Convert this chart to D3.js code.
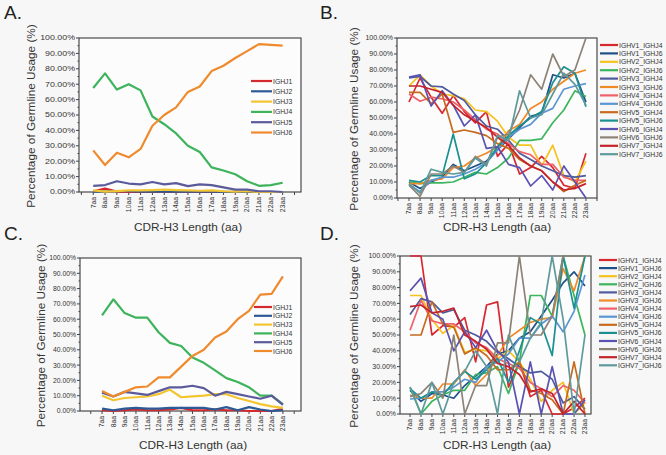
<!DOCTYPE html>
<html>
<head>
<meta charset="utf-8">
<script src="https://cdn.jsdelivr.net/npm/d3@7"></script>
<style>
  body { margin: 0; background: #f7f7f7; }
  svg { display: block; font-family: "Liberation Sans", Arial, sans-serif; }
  .tick-label { font-size: 6.8px; fill: #333; }
  .legend-label { font-size: 6.8px; fill: #333; }
  .axis-title { font-size: 11.8px; fill: #333; }
  .panel-tag { font-size: 19px; fill: #222; }
</style>
</head>
<body>
<svg id="chart" width="666" height="455"></svg>
<script>
// categories
const lengths = ["7aa","8aa","9aa","10aa","11aa","12aa","13aa","14aa","15aa","16aa","17aa","18aa","19aa","20aa","21aa","22aa","23aa"];
const yTicks = [0,10,20,30,40,50,60,70,80,90,100];

// Panel A: IGHJ usage
const aIGHJ1 = [0.5, 2.2, 0.3, 0, 0, 0, 0, 0, 0, 0, 0, 0, 0, 0, 0, 0, 0];
const aIGHJ2 = [0.3, 0.2, 0.5, 0.5, 0.3, 0.3, 0.2, 0.3, 0.2, 0.2, 0.2, 0.1, 0, 0, 0, 0, 0];
const aIGHJ3 = [1, 0.3, 0.6, 1, 1, 1.2, 1.5, 1.2, 1, 0.8, 1, 0.5, 0.3, 0.5, 0, 0, 0];
const aIGHJ4 = [67.5, 77, 66.5, 70, 66, 49, 44, 38, 30, 26, 16, 14, 11.5, 7, 4, 4.5, 6];
const aIGHJ5 = [4, 4.5, 7, 5.5, 5, 6.5, 5, 5.8, 3.8, 5, 4.5, 3, 1.5, 1.5, 0.5, 0.5, 0];
const aIGHJ6 = [27, 17.5, 25.5, 22.5, 28, 43, 50, 55, 65, 68.5, 78.5, 82, 87, 91.5, 96, 95.5, 95];

// Panel C: IGHJ usage
const cIGHJ1 = [0.5, 0, 0.5, 1, 0.5, 0.5, 1, 2, 0.5, 0.5, 1, 0.5, 0.5, 0, 0, 0, 1.5];
const cIGHJ2 = [1.5, 0.5, 1.5, 2, 1.5, 1.5, 2, 2, 2, 2, 1, 2.5, 0.5, 2.5, 1, 0, 0.5];
const cIGHJ3 = [10, 7, 8.5, 9, 9.5, 11, 14, 9, 9.5, 10, 11, 11, 8.5, 6.5, 4.5, 3, 2];
const cIGHJ4 = [62.5, 73, 64, 61, 61, 51.5, 44.5, 42.5, 35, 31.5, 26.5, 21.5, 19, 15.5, 10, 10, 4.5];
const cIGHJ5 = [12, 9.5, 12.5, 11.5, 10.5, 13, 15.5, 15.5, 16.5, 15, 10, 12.5, 11, 9.5, 8, 10, 4];
const cIGHJ6 = [13, 9.5, 12.5, 15.5, 16, 22, 22, 29, 36, 40, 48, 52, 60, 65.5, 76, 76.5, 88];

// Panel B: IGHV/IGHJ pairs
const bV1J4 = [60, 75, 63, 53, 64, 54, 47, 54, 26, 34, 15, 19, 26, 19, 8, 6, 28];
const bV1J6 = [10, 6, 10, 13, 21, 17, 20, 23, 30, 37, 44, 51, 53, 77, 75, 78, 60];
const bV2J4 = [70, 77, 70, 65, 64, 62, 55, 54, 48, 38, 33, 33, 20, 33, 14, 10, 23];
const bV2J6 = [10, 9, 9.5, 9.5, 10, 13, 16, 15, 19, 25, 36, 36, 37, 47, 55, 67, 63.5];
const bV3J4 = [75, 76, 70, 69.5, 65, 61, 52, 45, 43, 36, 28, 24, 20, 17, 14, 13, 14];
const bV3J6 = [9, 9, 11, 12, 19, 20, 25, 28, 32, 42, 46, 56, 60, 68, 73, 78, 80];
const bV4J4 = [65, 60.5, 63, 62, 60, 55, 49, 43, 40, 34, 29, 27, 21, 21, 13, 11, 11];
const bV4J6 = [8.5, 4, 11, 13, 13, 15, 18, 22, 30, 38, 43, 46, 53, 56, 68, 70, 71.5];
const bV5J4 = [66, 66, 59, 65, 41, 42.5, 41, 39, 34, 31, 24, 20, 17, 10, 4, 8, 11];
const bV5J6 = [11, 10, 14, 14, 40, 12, 15, 22, 32, 39, 45, 50, 54, 72, 82, 78, 57];
const bV6J4 = [75.5, 77, 57.5, 67, 58, 45, 52, 31, 32, 21, 19, 7.5, 14, 5, 20, 10, 0];
const bV6J6 = [8, 1, 15, 15, 20, 16, 26, 21, 38, 40, 55, 77, 68, 90, 76, 80, 100];
const bV7J4 = [70, 70, 68, 66, 58, 52, 48, 44, 38, 33, 25, 20, 17, 10, 5, 6, 9];
const bV7J6 = [9, 3, 18, 16, 15, 16, 25, 20, 39, 36, 67, 50, 52, 65, 78, 71, 58];

// Panel D: IGHV/IGHJ pairs
const dV1J4 = [100, 100, 50, 56, 55, 61, 33, 69, 71, 17, 33, 11, 15, 0, 0, 4, 10];
const dV1J6 = [15, 8, 13, 12, 10, 18, 24, 30, 38, 40, 48, 52, 62, 72, 83, 90, 81];
const dV2J4 = [75, 75, 60, 51, 56, 39, 41, 40, 35, 40, 33, 22, 8, 15, 20, 0, 7];
const dV2J6 = [17, 0, 8, 12, 15, 15, 25, 26, 30, 13, 33, 75, 75, 62, 100, 75, 50];
const dV3J4 = [63, 73, 71, 64, 66, 53, 50, 46, 39, 35, 30, 26, 27, 22, 7, 11, 3];
const dV3J6 = [12, 10, 10, 19, 19, 28, 18, 25, 37, 48, 53, 58, 60, 61, 92, 78, 100];
const dV4J4 = [53, 72, 59, 57, 57, 52, 45, 42, 35, 32, 29, 20, 16, 11, 18, 15, 7];
const dV4J6 = [9.5, 10, 14, 14, 17, 22, 20, 30, 33, 38, 48, 48, 57, 62, 52, 65, 88];
const dV5J4 = [50, 50, 71, 57, 55, 38, 42, 37, 28, 28, 33, 15, 13, 9, 0, 33, 0];
const dV5J6 = [16, 10, 14, 12, 20, 27, 22, 28, 35, 20, 40, 61, 57, 37, 100, 67, 100];
const dV6J4 = [78, 86, 64, 60, 40, 52, 42, 53, 40, 33, 0, 33, 0, 30, 0, 0, 9];
const dV6J6 = [11, 13, 20, 10, 50, 0, 18, 18, 45, 45, 100, 50, 50, 62, 100, 100, 100];
const dV7J4 = [68, 69, 64, 65, 67, 50, 46, 41, 32, 30, 25, 14, 16, 13, 0, 8, 0];
const dV7J6 = [17, 0, 20, 0, 20, 27, 40, 30, 0, 50, 33, 48, 58, 100, 60, 0, 50];

const jNames = ["IGHJ1","IGHJ2","IGHJ3","IGHJ4","IGHJ5","IGHJ6"];
const jColors = ["#d42a2e","#2c5a96","#f3c530","#3db45c","#5b5b9c","#ef8a2d"];
const pairNames = ["IGHV1_IGHJ4","IGHV1_IGHJ6","IGHV2_IGHJ4","IGHV2_IGHJ6","IGHV3_IGHJ4","IGHV3_IGHJ6","IGHV4_IGHJ4",
  "IGHV4_IGHJ6","IGHV5_IGHJ4","IGHV5_IGHJ6","IGHV6_IGHJ4","IGHV6_IGHJ6","IGHV7_IGHJ4","IGHV7_IGHJ6"];
const pairColors = ["#d7282f","#1f4f8a","#f6c21f","#3cb55c","#4d5a9c","#f08a26","#ef6068",
  "#5b96d2","#c66a1e","#1a9090","#5a52b2","#8c8275","#c4232b","#5e9a9c"];

const svg = d3.select("#chart");

function drawPanel(p) {
  const g = svg.append("g");
  const x = d3.scaleLinear().domain(p.xDomain).range([p.left, p.right]);
  const y = d3.scaleLinear().domain([0, 100]).range([p.bottom, p.top]);

  // plot box
  g.append("rect")
    .attr("x", p.left).attr("y", p.top)
    .attr("width", p.right - p.left).attr("height", p.bottom - p.top)
    .attr("fill", "#fcfcfc").attr("stroke", "#3a3a3a").attr("stroke-width", 1.1);

  // y ticks (panel A labels are stretched wide like the original)
  yTicks.forEach(v => {
    g.append("line").attr("x1", p.left - 3).attr("x2", p.left)
      .attr("y1", y(v)).attr("y2", y(v)).attr("stroke", "#444");
    g.append("text").attr("class", "tick-label")
      .attr("transform", `translate(${p.left - 4},${y(v) + 2.4}) scale(${p.labelScale},1)`)
      .attr("text-anchor", "end").text(v.toFixed(2) + "%");
  });
  d3.range(5, 100, 10).forEach(v => {
    g.append("line").attr("x1", p.left - 1.5).attr("x2", p.left)
      .attr("y1", y(v)).attr("y2", y(v)).attr("stroke", "#444");
  });

  // x ticks
  d3.range(-1, 18).forEach(i => {
    const xv = x(i);
    if (xv < p.left - 0.5 || xv > p.right + 0.5) return;
    g.append("line").attr("x1", xv).attr("x2", xv)
      .attr("y1", p.bottom).attr("y2", p.bottom + 3).attr("stroke", "#444");
  });
  lengths.forEach((l, i) => {
    g.append("text").attr("class", "tick-label")
      .attr("transform", `translate(${x(i) + 2.3},${p.bottom + 5}) rotate(-90)`)
      .attr("text-anchor", "end").text(l);
  });

  // lines
  const line = d3.line().x((d, i) => x(i)).y(d => y(d));
  p.series.forEach(s => {
    g.append("path").datum(s.values)
      .attr("fill", "none").attr("stroke", s.color)
      .attr("stroke-width", p.lineWidth)
      .attr("stroke-linejoin", "round")
      .attr("d", line);
  });

  // legend
  p.series.forEach((s, k) => {
    const ly = p.legendY + k * p.legendStep;
    g.append("line").attr("x1", p.legendX).attr("x2", p.legendX + p.legendLen)
      .attr("y1", ly).attr("y2", ly).attr("stroke", s.color).attr("stroke-width", 2.2);
    g.append("text").attr("class", "legend-label")
      .attr("x", p.legendX + p.legendLen + 1).attr("y", ly + 2.5).text(s.name);
  });

  // titles
  g.append("text").attr("class", "axis-title")
    .attr("transform", `translate(${p.yTitleX},${(p.top + p.bottom) / 2 + 1}) rotate(-90)`)
    .attr("text-anchor", "middle").text("Percentage of Germline Usage (%)");
  g.append("text").attr("class", "axis-title")
    .attr("x", p.xTitleX).attr("y", p.xTitleY)
    .attr("text-anchor", "middle").text("CDR-H3 Length (aa)");
  g.append("text").attr("class", "panel-tag")
    .attr("x", p.tagX).attr("y", p.tagY).text(p.tag);
}

const seriesA = [aIGHJ1, aIGHJ2, aIGHJ3, aIGHJ4, aIGHJ5, aIGHJ6].map((v, i) => ({ name: jNames[i], color: jColors[i], values: v }));
const seriesC = [cIGHJ1, cIGHJ2, cIGHJ3, cIGHJ4, cIGHJ5, cIGHJ6].map((v, i) => ({ name: jNames[i], color: jColors[i], values: v }));
const seriesB = [bV1J4, bV1J6, bV2J4, bV2J6, bV3J4, bV3J6, bV4J4, bV4J6, bV5J4, bV5J6, bV6J4, bV6J6, bV7J4, bV7J6]
  .map((v, i) => ({ name: pairNames[i], color: pairColors[i], values: v }));
const seriesD = [dV1J4, dV1J6, dV2J4, dV2J6, dV3J4, dV3J6, dV4J4, dV4J6, dV5J4, dV5J6, dV6J4, dV6J6, dV7J4, dV7J6]
  .map((v, i) => ({ name: pairNames[i], color: pairColors[i], values: v }));

drawPanel({ tag: "A.", tagX: 4, tagY: 19, left: 79, right: 301, top: 38, bottom: 192, xDomain: [-1.2, 17.55],
  series: seriesA, lineWidth: 2.2, labelScale: 1.3, legendX: 251, legendY: 81, legendStep: 10.3, legendLen: 21,
  yTitleX: 35, xTitleX: 188, xTitleY: 231 });
drawPanel({ tag: "B.", tagX: 320, tagY: 19, left: 397, right: 597, top: 38, bottom: 198, xDomain: [-1.085, 17],
  series: seriesB, lineWidth: 1.7, labelScale: 1.03, legendX: 600, legendY: 45, legendStep: 8.4, legendLen: 18,
  yTitleX: 358, xTitleX: 497, xTitleY: 231 });
drawPanel({ tag: "C.", tagX: 4, tagY: 240, left: 80, right: 301, top: 258, bottom: 411, xDomain: [-1.95, 17.6],
  series: seriesC, lineWidth: 2.2, labelScale: 1.0, legendX: 254, legendY: 307, legendStep: 8.8, legendLen: 18,
  yTitleX: 45, xTitleX: 193, xTitleY: 449 });
drawPanel({ tag: "D.", tagX: 320, tagY: 240, left: 400, right: 591, top: 256, bottom: 414, xDomain: [-0.92, 16.55],
  series: seriesD, lineWidth: 1.7, labelScale: 1.03, legendX: 599, legendY: 260, legendStep: 8.1, legendLen: 18,
  yTitleX: 358, xTitleX: 497, xTitleY: 449 });
</script>
</body>
</html>
